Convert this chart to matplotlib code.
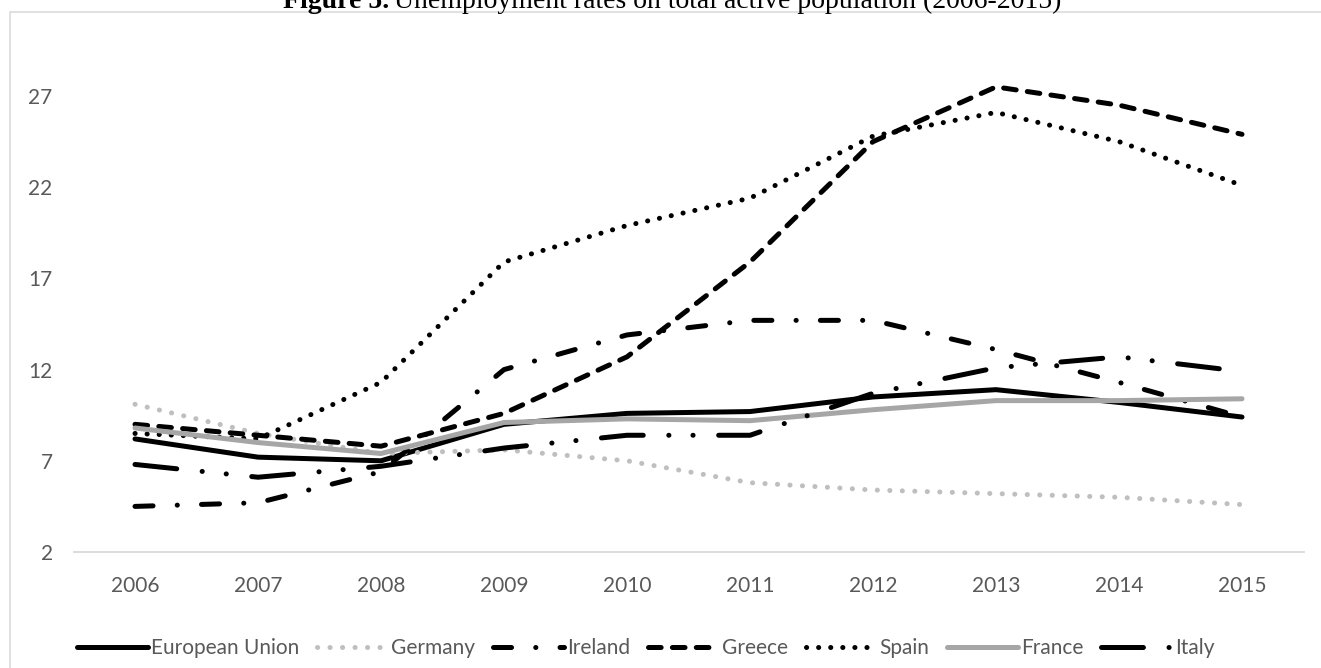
import matplotlib
matplotlib.use("Agg")
import matplotlib.pyplot as plt
from matplotlib.patches import Rectangle

# Unemployment rates (% of active population), 2006-2015
years = ["2006", "2007", "2008", "2009", "2010", "2011", "2012", "2013", "2014", "2015"]
european_union = [8.2, 7.2, 7.0, 9.0, 9.6, 9.7, 10.5, 10.9, 10.2, 9.4]
germany = [10.1, 8.5, 7.4, 7.6, 7.0, 5.8, 5.4, 5.2, 5.0, 4.6]
ireland = [4.5, 4.7, 6.4, 12.0, 13.9, 14.7, 14.7, 13.1, 11.3, 9.4]
greece = [9.0, 8.4, 7.8, 9.6, 12.7, 17.9, 24.5, 27.5, 26.5, 24.9]
spain = [8.5, 8.2, 11.3, 17.9, 19.9, 21.4, 24.8, 26.1, 24.5, 22.1]
france = [8.8, 8.0, 7.4, 9.1, 9.3, 9.2, 9.8, 10.3, 10.3, 10.4]
italy = [6.8, 6.1, 6.7, 7.7, 8.4, 8.4, 10.7, 12.1, 12.7, 11.9]
y_ticks = [2, 7, 12, 17, 22, 27]

plt.rcParams["lines.scale_dashes"] = False

W, H, DPI = 1321, 668, 100
fig = plt.figure(figsize=(W / DPI, H / DPI), dpi=DPI)
fig.patch.set_facecolor("white")

# chart frame
fig.patches.append(Rectangle((10 / W, -0.05), 1.2, (H - 12) / H + 0.05,
                             transform=fig.transFigure, fill=False,
                             edgecolor="#D9D9D9", linewidth=1.1, zorder=0))

ax_left, ax_right = 73.5, 1303.5
ax_bottom_px, ax_top_px = 552, 41.3
ax = fig.add_axes([ax_left / W, (H - ax_bottom_px) / H,
                   (ax_right - ax_left) / W, (ax_bottom_px - ax_top_px) / H])

lw = 3.6
series = [
    ("European Union", european_union, "black", "-"),
    ("Germany", germany, "#BFBFBF", (0, (0.1, 8.9))),
    ("Ireland", ireland, "black", (0, (13.0, 17.4, 0.1, 17.4))),
    ("Greece", greece, "black", (0, (9.1, 8.1))),
    ("Spain", spain, "black", (0, (0.1, 8.6))),
    ("France", france, "#A6A6A6", "-"),
    ("Italy", italy, "black", (0, (30.2, 18.4, 0.1, 17.3, 0.1, 18.4))),
]

x = list(range(len(years)))
handles = []
for name, vals, color, ls in series:
    ln, = ax.plot(x, vals, color=color, linestyle=ls, linewidth=lw,
                  dash_capstyle="round", solid_capstyle="round",
                  dash_joinstyle="round", solid_joinstyle="round", label=name)
    handles.append(ln)

ax.set_xlim(-0.5, len(years) - 0.5)
ax.set_ylim(2, 30)
ax.set_xticks(x)
ax.set_xticklabels(years)
ax.set_yticks(y_ticks)
ax.set_yticklabels([str(v) for v in y_ticks])

font = "Lato"
text_color = "#595959"
ax.tick_params(axis="both", length=0, labelsize=15, labelcolor=text_color)
ax.tick_params(axis="x", pad=17)
ax.tick_params(axis="y", pad=15)
for lab in ax.get_xticklabels() + ax.get_yticklabels():
    lab.set_family(font)

for side in ["top", "right", "left"]:
    ax.spines[side].set_visible(False)
ax.spines["bottom"].set_color("#D9D9D9")
ax.spines["bottom"].set_linewidth(1.3)
ax.set_facecolor("none")

leg = fig.legend(handles=handles, loc="center", bbox_to_anchor=(646 / W, (H - 648) / H),
                 ncol=7, frameon=False, handlelength=3.4, handletextpad=0.15,
                 columnspacing=0.85, borderaxespad=0, borderpad=0,
                 prop={"family": font, "size": 15})
for t in leg.get_texts():
    t.set_color(text_color)

# title: bold figure number followed by regular text
title_y = (H - 8) / H
t1 = fig.text(283 / W, title_y, "Figure 5.", family="Liberation Serif",
              fontweight="bold", fontsize=20, va="baseline", ha="left")
fig.canvas.draw()
bb = t1.get_window_extent(fig.canvas.get_renderer())
fig.text((bb.x1 + 5) / W, title_y,
         "Unemployment rates on total active population (2006-2015)",
         family="Liberation Serif", fontsize=20, va="baseline", ha="left")

fig.savefig("out.png", dpi=DPI, facecolor="white")
